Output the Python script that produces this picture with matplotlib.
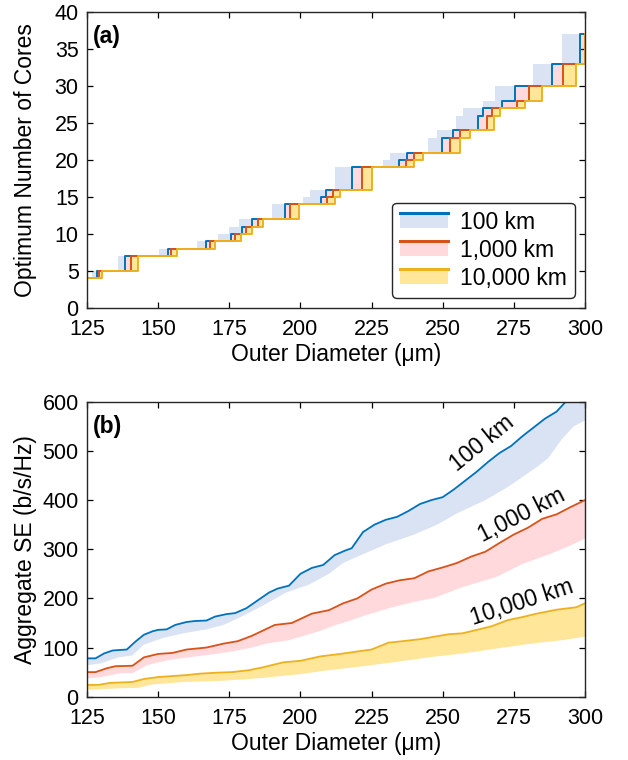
import numpy as np
import matplotlib
matplotlib.use("Agg")
import matplotlib.pyplot as plt
from matplotlib.patches import Rectangle
from matplotlib.lines import Line2D
from matplotlib.legend_handler import HandlerBase

plt.rcParams["font.family"] = ["Liberation Sans", "DejaVu Sans"]

# ---------------- panel (a): optimum core count (step curves) ----------------
levels = [4, 5, 7, 8, 9, 10, 11, 12, 14, 15, 16, 19, 20, 21, 23, 24, 26, 27, 28, 30, 33, 37]
# diameter (um) at which each curve reaches the level above
blue_x = [125, 128.5, 138.2, 153.4, 166.7, 175.5, 179.3, 183, 194.6, 207.3, 209,
          218, 234.6, 237.3, 249.6, 253.7, 262.5, 264, 270.7, 275.4, 288.3, 298.2]
red_x = [125, 129.3, 140.3, 154.4, 168.2, 177, 181, 185, 196.5, 209.5, 211.5,
         221.5, 237, 240, 252.5, 256, 265.5, 267.5, 276, 280.4, 292.4, 300]
yellow_x = [125, 130.2, 143, 156.5, 170, 179, 183, 187, 199.5, 212, 214,
            225, 240, 243, 256, 259.5, 268, 270, 279, 284.8, 296.8, 300]
# upper edge of the 100 km band
blue_hi_x = [125, 126.6, 136, 150.3, 163.5, 171, 175, 178.5, 190, 201, 203.4,
             212, 229, 231.5, 245, 248, 254.5, 257, 264, 268.4, 281.8, 291.8]

# ---------------- panel (b): aggregate SE ----------------
b_blue_x = [125, 128, 131, 134, 139, 142, 145, 148, 150, 153, 156, 160, 163, 167, 170,
            174, 177, 181, 185, 189, 192, 196, 200, 204, 208, 212, 216, 218, 222, 226,
            230, 234, 238, 242, 246, 250, 254, 258, 262, 266, 270, 274, 278, 282, 286,
            290, 294, 297, 300]
b_blue_y = [78, 78, 88, 94, 96, 112, 126, 133, 136, 137, 146, 152, 154, 155, 163,
            168, 170, 180, 196, 212, 220, 226, 250, 262, 268, 288, 298, 302, 335, 350,
            360, 366, 378, 392, 400, 406, 422, 440, 458, 478, 496, 510, 530, 548, 566,
            580, 605, 630, 650]
b_blue_lo_x = [125, 130, 136, 141, 145, 152, 159, 167, 173, 180, 187, 195, 203, 210,
               215, 222, 230, 240, 248, 255, 265, 273, 283, 287, 292, 296, 300]
b_blue_lo_y = [64, 68, 80, 84, 106, 120, 129, 137, 146, 165, 186, 212, 228, 250,
               272, 290, 310, 330, 350, 373, 400, 427, 467, 485, 525, 550, 562]

b_red_x = [125, 128, 132, 135, 141, 145, 150, 155, 160, 167, 173, 178, 183, 187, 191,
           197, 204, 210, 215, 220, 225, 230, 235, 240, 245, 250, 255, 260, 265, 270,
           275, 280, 285, 290, 295, 300]
b_red_y = [50, 50, 58, 62, 63, 80, 87, 89, 96, 100, 108, 113, 124, 135, 146,
           150, 169, 176, 190, 200, 218, 230, 237, 241, 255, 263, 272, 285, 295, 313,
           330, 344, 362, 371, 386, 400]
b_red_lo_x = [125, 130, 137, 141, 146, 154, 162, 169, 176, 183, 188, 196, 207, 212,
              217, 222, 231, 240, 247, 257, 269, 278, 288, 295, 300]
b_red_lo_y = [37, 40, 48, 48, 64, 75, 81, 86, 92, 100, 108, 115, 134, 145,
              154, 164, 180, 193, 201, 223, 244, 270, 291, 308, 322]

b_yel_x = [125, 129, 133, 141, 145, 150, 155, 160, 165, 171, 176, 182, 187, 194,
           200, 207, 214, 220, 225, 231, 236, 242, 247, 252, 257, 262, 267, 273,
           278, 283, 290, 297, 300]
b_yel_y = [24, 24, 28, 30, 36, 40, 42, 44, 47, 49, 50, 54, 60, 70,
           73, 82, 87, 92, 96, 110, 113, 117, 122, 127, 129, 136, 143, 156,
           162, 169, 177, 182, 190]
b_yel_lo_x = [125, 136, 143, 148, 159, 171, 180, 188, 200, 210, 222, 234, 245, 257,
              269, 281, 292, 300]
b_yel_lo_y = [14, 17, 18, 25, 30, 32, 35, 39, 46, 54, 62, 71, 80, 88,
              98, 108, 115, 122]

series = ["100 km", "1,000 km", "10,000 km"]
line_colors = ["#0072BD", "#D95319", "#EDB120"]
fill_colors = ["#DAE3F3", "#FFD9DC", "#FFE699"]

TICK_FS = 15.5
LABEL_FS = 16.5
AX_COLOR = "#262626"


def step_at(xs, bx, lv):
    idx = np.searchsorted(bx, xs, side="right") - 1
    return np.asarray(lv)[idx]


class BandKey:
    def __init__(self, lc, fc):
        self.lc = lc
        self.fc = fc


class HandlerBand(HandlerBase):  # legend key: filled patch with the line on its top edge
    def create_artists(self, legend, orig_handle, xdescent, ydescent, width, height, fontsize, trans):
        rect = Rectangle((-xdescent, -ydescent), width, height, facecolor=orig_handle.fc,
                         edgecolor="none", transform=trans)
        ln = Line2D([-xdescent, -xdescent + width], [height - ydescent] * 2,
                    color=orig_handle.lc, lw=2.2, transform=trans)
        return [rect, ln]


def style_axes(ax):
    ax.tick_params(direction="in", top=True, right=True, length=4, width=0.9,
                   labelsize=TICK_FS, colors="black")
    ax.tick_params(axis="x", pad=8)
    ax.tick_params(axis="y", pad=6)
    for sp in ax.spines.values():
        sp.set_color(AX_COLOR)
        sp.set_linewidth(1.0)


fig = plt.figure(figsize=(6.28, 7.6), dpi=100)
ax1 = fig.add_axes([0.1385, 0.5947, 0.793, 0.3895])
ax2 = fig.add_axes([0.1385, 0.0833, 0.793, 0.388])

# ----- (a) -----
grid = np.unique(np.concatenate([blue_x, red_x, yellow_x, blue_hi_x, [300]]))
yb = step_at(grid, blue_x, levels)
yr = step_at(grid, red_x, levels)
yy = step_at(grid, yellow_x, levels)
yh = step_at(grid, blue_hi_x, levels)

ax1.fill_between(grid, yb, yh, step="post", color=fill_colors[0], lw=0)
ax1.fill_between(grid, yr, yb, step="post", color=fill_colors[1], lw=0)
ax1.fill_between(grid, yy, yr, step="post", color=fill_colors[2], lw=0)
for bx, c in zip([blue_x, red_x, yellow_x], line_colors):
    ax1.step(list(bx) + [300], levels + [levels[-1]], where="post", color=c, lw=1.4)

ax1.set_xlim(125, 300)
ax1.set_ylim(0, 40)
ax1.set_xticks(np.arange(125, 301, 25))
ax1.set_yticks(np.arange(0, 41, 5))
ax1.set_xlabel("Outer Diameter (μm)", fontsize=LABEL_FS, labelpad=2)
ax1.set_ylabel("Optimum Number of Cores", fontsize=LABEL_FS)
ax1.yaxis.set_label_coords(-0.1, 0.5)
ax1.text(0.012, 0.955, "(a)", transform=ax1.transAxes, fontsize=16.5,
         fontweight="bold", va="top", ha="left")
style_axes(ax1)

keys = [BandKey(lc, fc) for lc, fc in zip(line_colors, fill_colors)]
leg = ax1.legend(keys, series, handler_map={BandKey: HandlerBand()}, loc="lower right",
                 fontsize=16.5, handlelength=2.1, handleheight=0.6, handletextpad=0.5,
                 labelspacing=0.22, borderpad=0.35, borderaxespad=0.45,
                 fancybox=True, framealpha=1, edgecolor=AX_COLOR)
leg.get_frame().set_linewidth(1.0)

# ----- (b) -----
bands = [(b_blue_x, b_blue_y, b_blue_lo_x, b_blue_lo_y),
         (b_red_x, b_red_y, b_red_lo_x, b_red_lo_y),
         (b_yel_x, b_yel_y, b_yel_lo_x, b_yel_lo_y)]
for (ux, uy, lx, ly), fc in zip(bands, fill_colors):
    ax2.fill(list(ux) + list(lx)[::-1], list(uy) + list(ly)[::-1], color=fc, lw=0)
for (ux, uy, lx, ly), c in zip(bands, line_colors):
    ax2.plot(ux, uy, color=c, lw=1.3)

ax2.text(264, 515, "100 km", rotation=39, fontsize=16.5, ha="center", va="center",
         rotation_mode="anchor")
ax2.text(277.7, 369, "1,000 km", rotation=27, fontsize=16.5, ha="center", va="center",
         rotation_mode="anchor")
ax2.text(278, 191, "10,000 km", rotation=18, fontsize=16.5, ha="center", va="center",
         rotation_mode="anchor")

ax2.set_xlim(125, 300)
ax2.set_ylim(0, 600)
ax2.set_xticks(np.arange(125, 301, 25))
ax2.set_yticks(np.arange(0, 601, 100))
ax2.set_xlabel("Outer Diameter (μm)", fontsize=LABEL_FS, labelpad=2)
ax2.set_ylabel("Aggregate SE (b/s/Hz)", fontsize=LABEL_FS)
ax2.yaxis.set_label_coords(-0.1, 0.5)
ax2.text(0.012, 0.955, "(b)", transform=ax2.transAxes, fontsize=16.5,
         fontweight="bold", va="top", ha="left")
style_axes(ax2)

fig.savefig("out.png", dpi=100)
